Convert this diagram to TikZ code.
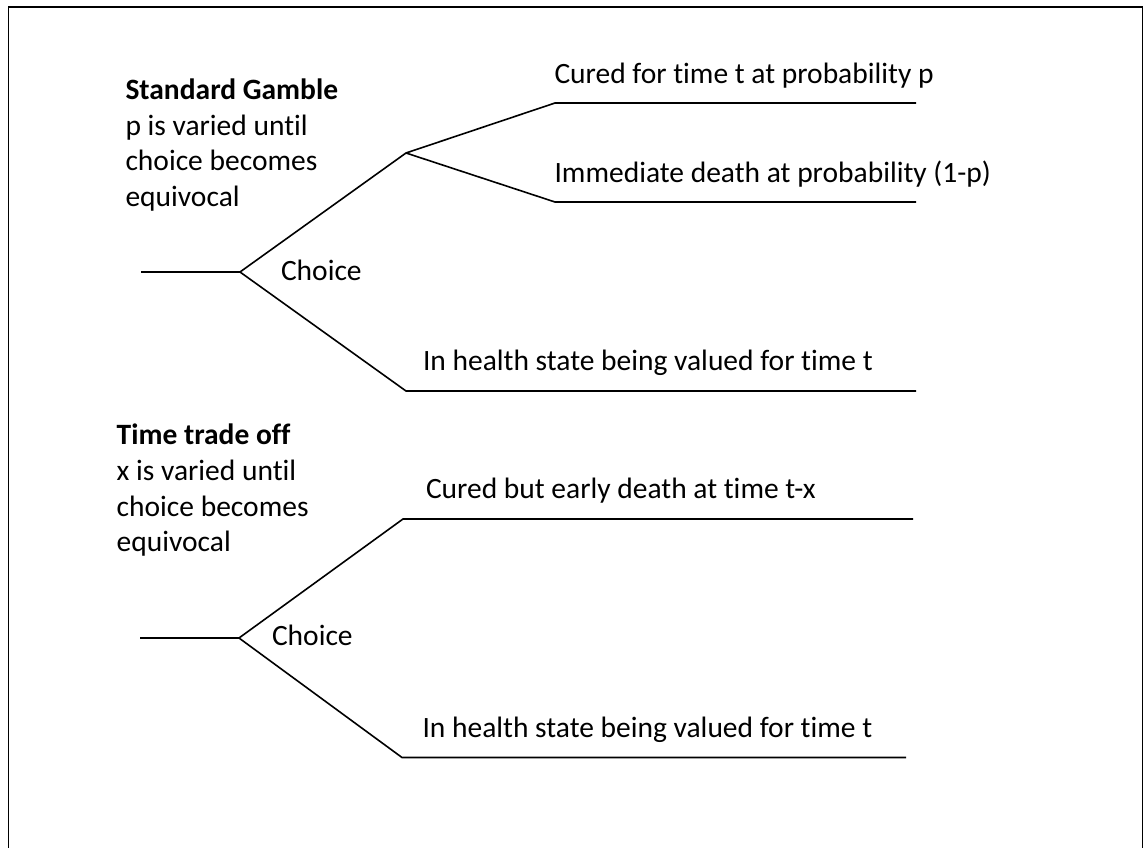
\documentclass[tikz,border=0pt]{standalone}
\usepackage{fontspec}
\setmainfont{Carlito}[Ligatures=NoCommon]
\begin{document}
\begin{tikzpicture}[x=1pt,y=-1pt,
  line/.style={line width=1.6pt},
  lbl/.style={anchor=base west, inner sep=0pt, outer sep=0pt, font=\fontsize{29.5}{35.5}\selectfont}]
\useasboundingbox (0,0) rectangle (1146,848);
% frame
\draw[line width=1.8pt] (8.5,850) -- (8.5,7) -- (1142.5,7) -- (1142.5,850);

% ---------- Standard Gamble ----------
\coordinate (s0) at (141,272);
\coordinate (sc) at (240,272);
\coordinate (sp) at (406,153);
\coordinate (su) at (555,103);
\coordinate (sue) at (916,103);
\coordinate (sd) at (555,202);
\coordinate (sde) at (916,202);
\coordinate (sl) at (406,391);
\coordinate (sle) at (916,391);
\draw[line] (s0) -- (sc) -- (sp) -- (su) -- (sue);
\draw[line] (sp) -- (sd) -- (sde);
\draw[line] (sc) -- (sl) -- (sle);

\node[lbl] (sgt) at (125.5,100) {\textbf{Standard Gamble}};
\node[lbl] (sg2) at (125.5,135.5) {p is varied until};
\node[lbl] (sg3) at (125.5,171) {choice becomes};
\node[lbl] (sg4) at (125.5,206.5) {equivocal};
\node[lbl] (sch) at (281,280) {Choice};
\node[lbl] (scu) at (554.5,83.3) {Cured for time t at probability p};
\node[lbl] (sim) at (554.5,182.7) {Immediate death at probability (1-p)};
\node[lbl] (shs) at (423,370.7) {In health state being valued for time t};

% ---------- Time trade off ----------
\coordinate (t0) at (140,638);
\coordinate (tc) at (239,638);
\coordinate (tu) at (403,519);
\coordinate (tue) at (913,519);
\coordinate (tl) at (402,757.5);
\coordinate (tle) at (906,757.5);
\draw[line] (t0) -- (tc) -- (tu) -- (tue);
\draw[line] (tc) -- (tl) -- (tle);

\node[lbl] (ttt) at (116.7,444.3) {\textbf{Time trade off}};
\node[lbl] (tt2) at (116.7,480) {x is varied until};
\node[lbl] (tt3) at (116.7,516) {choice becomes};
\node[lbl] (tt4) at (116.7,551.7) {equivocal};
\node[lbl] (tch) at (272,645) {Choice};
\node[lbl] (tcu) at (426,498.3) {Cured but early death at time t-x};
\node[lbl] (ths) at (422.5,737.3) {In health state being valued for time t};
\end{tikzpicture}
\end{document}
